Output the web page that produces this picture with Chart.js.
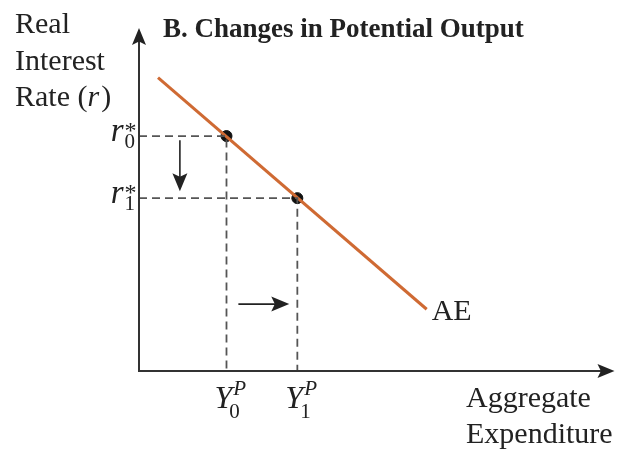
<!DOCTYPE html>
<html>
<head>
<meta charset="utf-8">
<script src="https://cdn.jsdelivr.net/npm/chart.js@4/dist/chart.umd.min.js"></script>
<style>
  html, body { margin: 0; padding: 0; background: #fff; }
  canvas { display: block; }
</style>
</head>
<body>
<canvas id="aeChart" width="621" height="450"></canvas>
<script>
// AE curve end points (aggregate expenditure, real interest rate)
const aeX = [0.4, 6.05];
const aeY = [8.55, 1.8];

// equilibrium before and after the rise in potential output
const potentialOutput = [1.84, 3.33];
const equilibriumRate = [6.85, 5.04];
const rateLabels = ['0', '1'];

// shift arrows: rate falls, output rises
const rateArrowX = 0.86;
const rateArrowY = [6.73, 5.24];
const outputArrowX = [2.09, 3.16];
const outputArrowY = 1.95;

const serif = '"Liberation Serif", "Times New Roman", serif';
const ink = '#222';

function guideData(i) {
  return [
    { x: 0, y: equilibriumRate[i] },
    { x: potentialOutput[i], y: equilibriumRate[i] },
    { x: potentialOutput[i], y: 0 }
  ];
}

function arrowHead(ctx, x, y, angle, len, half) {
  ctx.save();
  ctx.translate(x, y);
  ctx.rotate(angle);
  ctx.beginPath();
  ctx.moveTo(0, 0);
  ctx.lineTo(-len, -half);
  ctx.lineTo(-len * 0.8, 0);
  ctx.lineTo(-len, half);
  ctx.closePath();
  ctx.fill();
  ctx.restore();
}

function arrow(ctx, x1, y1, x2, y2, width, len, half) {
  const a = Math.atan2(y2 - y1, x2 - x1);
  ctx.lineWidth = width;
  ctx.beginPath();
  ctx.moveTo(x1, y1);
  ctx.lineTo(x2 - Math.cos(a) * len * 0.7, y2 - Math.sin(a) * len * 0.7);
  ctx.stroke();
  arrowHead(ctx, x2, y2, a, len, half);
}

const diagramPlugin = {
  id: 'diagram',
  afterDraw(chart) {
    const ctx = chart.ctx;
    const xs = chart.scales.x;
    const ys = chart.scales.y;
    const area = chart.chartArea;
    const ox = xs.getPixelForValue(0);
    const oy = ys.getPixelForValue(0);

    ctx.save();
    ctx.strokeStyle = '#333';
    ctx.fillStyle = '#222';

    // axes with arrow tips
    arrow(ctx, ox, oy, ox, area.top, 2, 17, 7);
    arrow(ctx, ox - 1, oy, area.right, oy, 2, 17, 7);

    // shift arrows
    ctx.strokeStyle = '#222';
    arrow(ctx, xs.getPixelForValue(rateArrowX), ys.getPixelForValue(rateArrowY[0]),
      xs.getPixelForValue(rateArrowX), ys.getPixelForValue(rateArrowY[1]), 1.6, 18, 7.5);
    arrow(ctx, xs.getPixelForValue(outputArrowX[0]), ys.getPixelForValue(outputArrowY),
      xs.getPixelForValue(outputArrowX[1]), ys.getPixelForValue(outputArrowY), 1.6, 18, 7.5);

    ctx.fillStyle = ink;
    ctx.textBaseline = 'alphabetic';

    // title
    ctx.font = 'bold 27px ' + serif;
    ctx.textAlign = 'left';
    ctx.fillText('B. Changes in Potential Output', 163, 37);

    // axis titles
    ctx.font = '30px ' + serif;
    ctx.fillText('Real', 15, 33);
    ctx.fillText('Interest', 15, 70);
    ctx.fillText('Rate (', 15, 106);
    let w = ctx.measureText('Rate (').width;
    ctx.font = 'italic 30px ' + serif;
    ctx.fillText('r', 15 + w, 106);
    w += ctx.measureText('r').width + 2;
    ctx.font = '30px ' + serif;
    ctx.fillText(')', 15 + w, 106);

    ctx.fillText('Aggregate', 466, 407);
    ctx.fillText('Expenditure', 466, 443);

    // curve label
    const endX = xs.getPixelForValue(aeX[1]);
    const endY = ys.getPixelForValue(aeY[1]);
    ctx.fillText('AE', endX + 5, endY + 11);

    // rate tick labels r*_i
    rateLabels.forEach((s, i) => {
      const py = ys.getPixelForValue(equilibriumRate[i]);
      ctx.font = 'italic 33px ' + serif;
      const rw = ctx.measureText('r').width;
      ctx.font = '21px ' + serif;
      const sw = ctx.measureText(s).width;
      const left = ox - 5 - rw - sw;
      ctx.font = 'italic 33px ' + serif;
      ctx.fillText('r', left, py + 5);
      ctx.font = '21px ' + serif;
      ctx.fillText(s, left + rw + 1, py + 12);
      ctx.font = '24px ' + serif;
      ctx.fillText('*', left + rw + 1, py + 2);
    });

    // output tick labels Y^P_i
    rateLabels.forEach((s, i) => {
      const px = xs.getPixelForValue(potentialOutput[i]);
      const left = px - 12;
      ctx.font = 'italic 32px ' + serif;
      const yw = ctx.measureText('Y').width;
      ctx.fillText('Y', left, oy + 37);
      ctx.font = 'italic 21px ' + serif;
      ctx.fillText('P', left + yw + 1, oy + 24);
      ctx.font = '21px ' + serif;
      ctx.fillText(s, left + yw - 3, oy + 47);
    });

    ctx.restore();
  }
};

new Chart(document.getElementById('aeChart'), {
  type: 'scatter',
  data: {
    datasets: [
      {
        label: 'guide 0',
        data: guideData(0),
        showLine: true,
        borderColor: '#555',
        borderWidth: 1.8,
        borderDash: [8, 5],
        pointRadius: 0,
        fill: false
      },
      {
        label: 'guide 1',
        data: guideData(1),
        showLine: true,
        borderColor: '#555',
        borderWidth: 1.8,
        borderDash: [8, 5],
        pointRadius: 0,
        fill: false
      },
      {
        label: 'AE',
        data: aeX.map((x, i) => ({ x: x, y: aeY[i] })),
        showLine: true,
        borderColor: '#cf6a33',
        borderWidth: 3,
        pointRadius: 0,
        fill: false
      },
      {
        label: 'equilibrium',
        data: potentialOutput.map((x, i) => ({ x: x, y: equilibriumRate[i] })),
        showLine: false,
        pointRadius: 5.5,
        pointBackgroundColor: '#111',
        pointBorderColor: '#111'
      }
    ]
  },
  options: {
    responsive: false,
    animation: false,
    layout: { padding: { left: 139, right: 4, top: 28, bottom: 79 } },
    plugins: {
      legend: { display: false },
      tooltip: { enabled: false }
    },
    scales: {
      x: { type: 'linear', min: 0, max: 10, display: false },
      y: { type: 'linear', min: 0, max: 10, display: false }
    }
  },
  plugins: [diagramPlugin]
});
</script>
</body>
</html>
